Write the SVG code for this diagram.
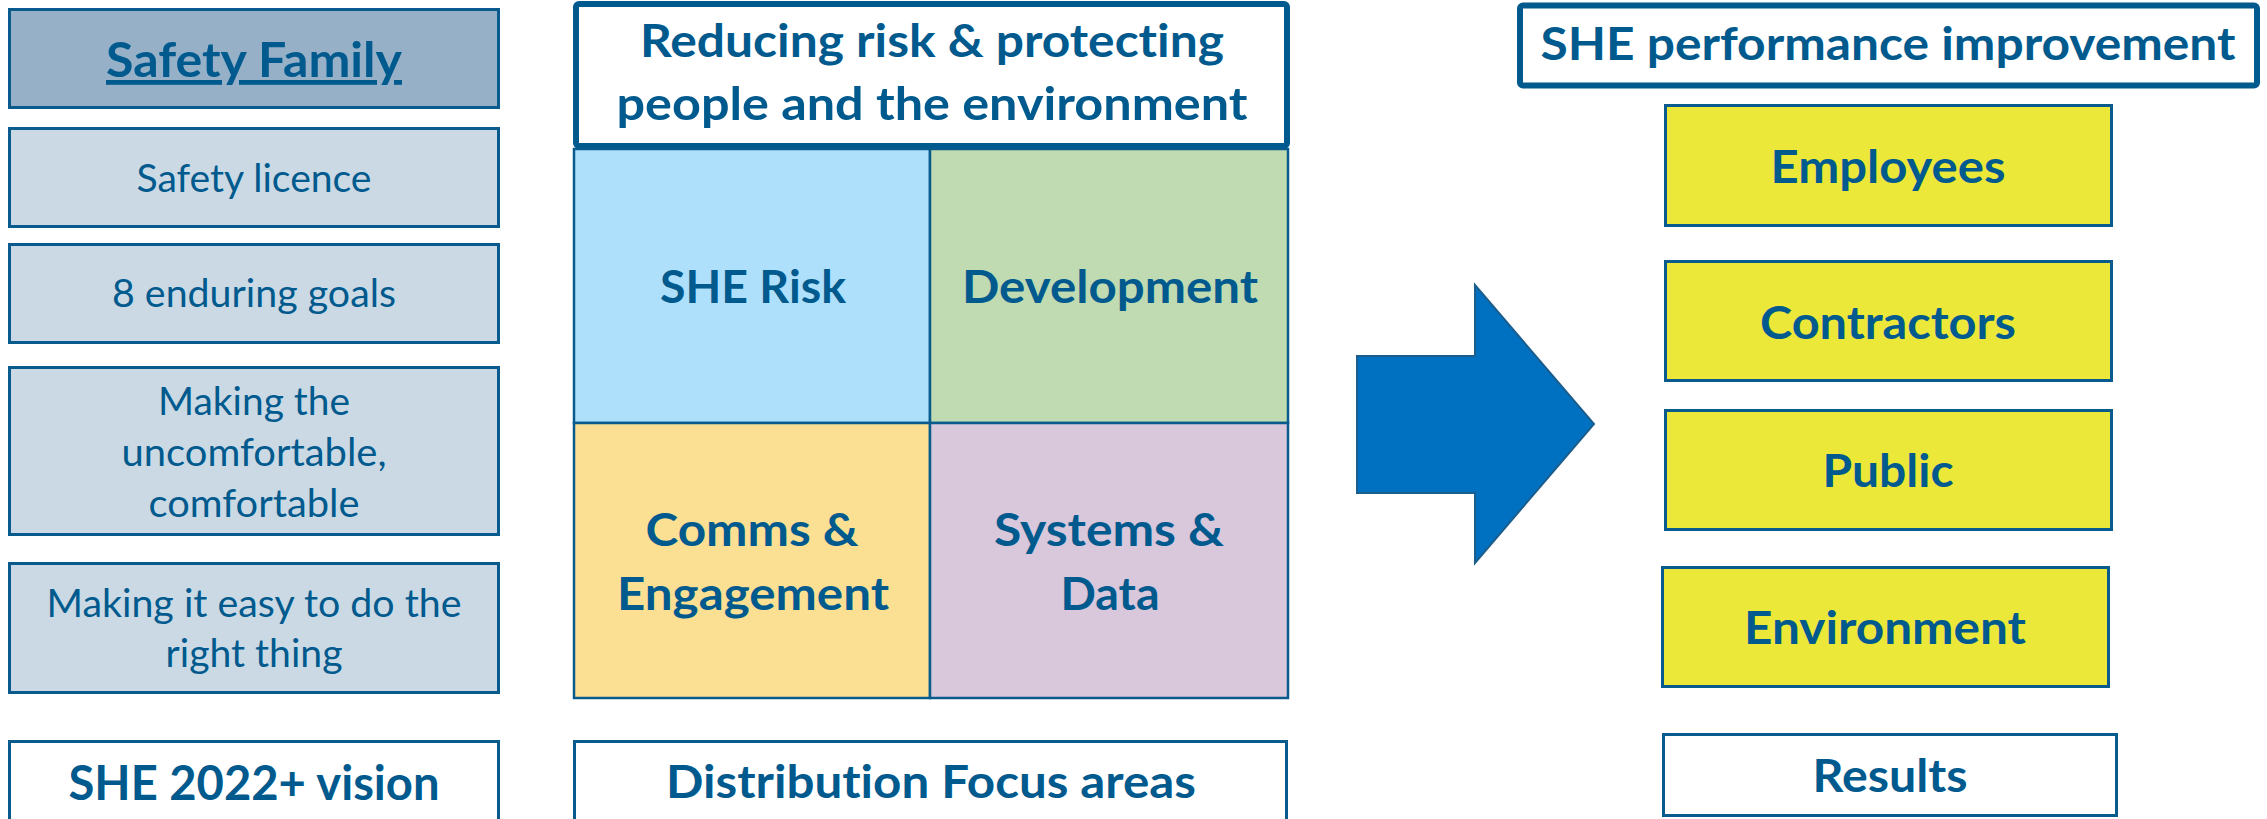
<svg xmlns="http://www.w3.org/2000/svg" width="2267" height="819" viewBox="0 0 2267 819">
<style>
text{font-family:Lato,"Open Sans","Liberation Sans",sans-serif;fill:#005a8e;text-anchor:middle;font-variant-ligatures:none;font-feature-settings:"liga" 0}
.b{font-weight:700;font-size:46px}
.bl{font-weight:700;font-size:48px}
.r{font-weight:400;font-size:39px}
.box{stroke:#0a5b8d;stroke-width:3}
.sf{fill:#96b0c8}
.lt{fill:#cad9e4}
.wh{fill:#ffffff}
.ye{fill:#ebe83a;stroke:#0a5b8d;stroke-width:3}
.cell{stroke:#0a5b8d;stroke-width:2.5}
.thick{fill:#ffffff;stroke:#005a8e;stroke-width:6}
</style>
<rect width="2267" height="819" fill="#ffffff"/>

<g id="safety-family">
<rect class="box sf" x="9.5" y="9.5" width="489" height="98"/>
<text class="bl" x="254" y="77" textLength="296" lengthAdjust="spacingAndGlyphs" text-decoration="underline">Safety Family</text>
</g>
<g id="safety-licence">
<rect class="box lt" x="9.5" y="128.5" width="489" height="98"/>
<text class="r" x="254" y="192" textLength="235" lengthAdjust="spacingAndGlyphs">Safety licence</text>
</g>
<g id="enduring-goals">
<rect class="box lt" x="9.5" y="244.5" width="489" height="98"/>
<text class="r" x="254" y="307" textLength="284" lengthAdjust="spacingAndGlyphs">8 enduring goals</text>
</g>
<g id="uncomfortable">
<rect class="box lt" x="9.5" y="367.5" width="489" height="167"/>
<text class="r" x="254" y="415" textLength="192" lengthAdjust="spacingAndGlyphs">Making the</text>
<text class="r" x="254" y="466" textLength="265" lengthAdjust="spacingAndGlyphs">uncomfortable,</text>
<text class="r" x="254" y="517" textLength="211" lengthAdjust="spacingAndGlyphs">comfortable</text>
</g>
<g id="easy">
<rect class="box lt" x="9.5" y="563.5" width="489" height="129"/>
<text class="r" x="254" y="617" textLength="415" lengthAdjust="spacingAndGlyphs">Making it easy to do the</text>
<text class="r" x="254" y="667" textLength="177" lengthAdjust="spacingAndGlyphs">right thing</text>
</g>
<g id="vision">
<rect class="box wh" x="9.5" y="741.5" width="489" height="100"/>
<text class="bl" x="254" y="800" textLength="371" lengthAdjust="spacingAndGlyphs">SHE 2022+ vision</text>
</g>

<g id="focus-header">
<rect class="thick" x="576" y="4" width="711" height="142" rx="3"/>
<text class="b" x="932" y="57" textLength="584" lengthAdjust="spacingAndGlyphs">Reducing risk &amp; protecting</text>
<text class="b" x="932" y="120" textLength="631" lengthAdjust="spacingAndGlyphs">people and the environment</text>
</g>
<g id="she-risk">
<rect class="cell" x="574" y="149" width="356" height="274" fill="#aee0fc"/>
<text class="b" x="753" y="303" textLength="186" lengthAdjust="spacingAndGlyphs">SHE Risk</text>
</g>
<g id="development">
<rect class="cell" x="930" y="149" width="358" height="274" fill="#c0dbb1"/>
<text class="b" x="1110" y="303" textLength="296" lengthAdjust="spacingAndGlyphs">Development</text>
</g>
<g id="comms">
<rect class="cell" x="574" y="423" width="356" height="275" fill="#fbe094"/>
<text class="b" x="752" y="546" textLength="213" lengthAdjust="spacingAndGlyphs">Comms &amp;</text>
<text class="b" x="753" y="610" textLength="272" lengthAdjust="spacingAndGlyphs">Engagement</text>
</g>
<g id="systems">
<rect class="cell" x="930" y="423" width="358" height="275" fill="#d9c7db"/>
<text class="b" x="1109" y="546" textLength="230" lengthAdjust="spacingAndGlyphs">Systems &amp;</text>
<text class="b" x="1110" y="610" textLength="99" lengthAdjust="spacingAndGlyphs">Data</text>
</g>
<g id="focus-areas">
<rect class="box wh" x="574.5" y="741.5" width="712" height="100"/>
<text class="b" x="931" y="798" textLength="530" lengthAdjust="spacingAndGlyphs">Distribution Focus areas</text>
</g>

<g id="connectors">
<path d="M1357,356 L1475,356 L1475,285 L1594,424 L1475,563 L1475,493 L1357,493 Z" fill="#0070c0" stroke="#1b5e8e" stroke-width="2" stroke-linejoin="miter"/>
</g>

<g id="performance-header">
<rect x="1520" y="5.5" width="737" height="80" rx="3" fill="#ffffff" stroke="#005a8e" stroke-width="6"/>
<text class="b" x="1888" y="60" textLength="695" lengthAdjust="spacingAndGlyphs">SHE performance improvement</text>
</g>
<g id="employees">
<rect class="ye" x="1665.5" y="105.5" width="446" height="120"/>
<text class="b" x="1888" y="183" textLength="235" lengthAdjust="spacingAndGlyphs">Employees</text>
</g>
<g id="contractors">
<rect class="ye" x="1665.5" y="261.5" width="446" height="119"/>
<text class="b" x="1888" y="339" textLength="256" lengthAdjust="spacingAndGlyphs">Contractors</text>
</g>
<g id="public">
<rect class="ye" x="1665.5" y="410.5" width="446" height="119"/>
<text class="b" x="1888" y="487" textLength="131" lengthAdjust="spacingAndGlyphs">Public</text>
</g>
<g id="environment">
<rect class="ye" x="1662.5" y="567.5" width="446" height="119"/>
<text class="b" x="1885" y="644" textLength="282" lengthAdjust="spacingAndGlyphs">Environment</text>
</g>
<g id="results">
<rect class="box wh" x="1663.5" y="734.5" width="453" height="81"/>
<text class="b" x="1890" y="792" textLength="155" lengthAdjust="spacingAndGlyphs">Results</text>
</g>
</svg>
